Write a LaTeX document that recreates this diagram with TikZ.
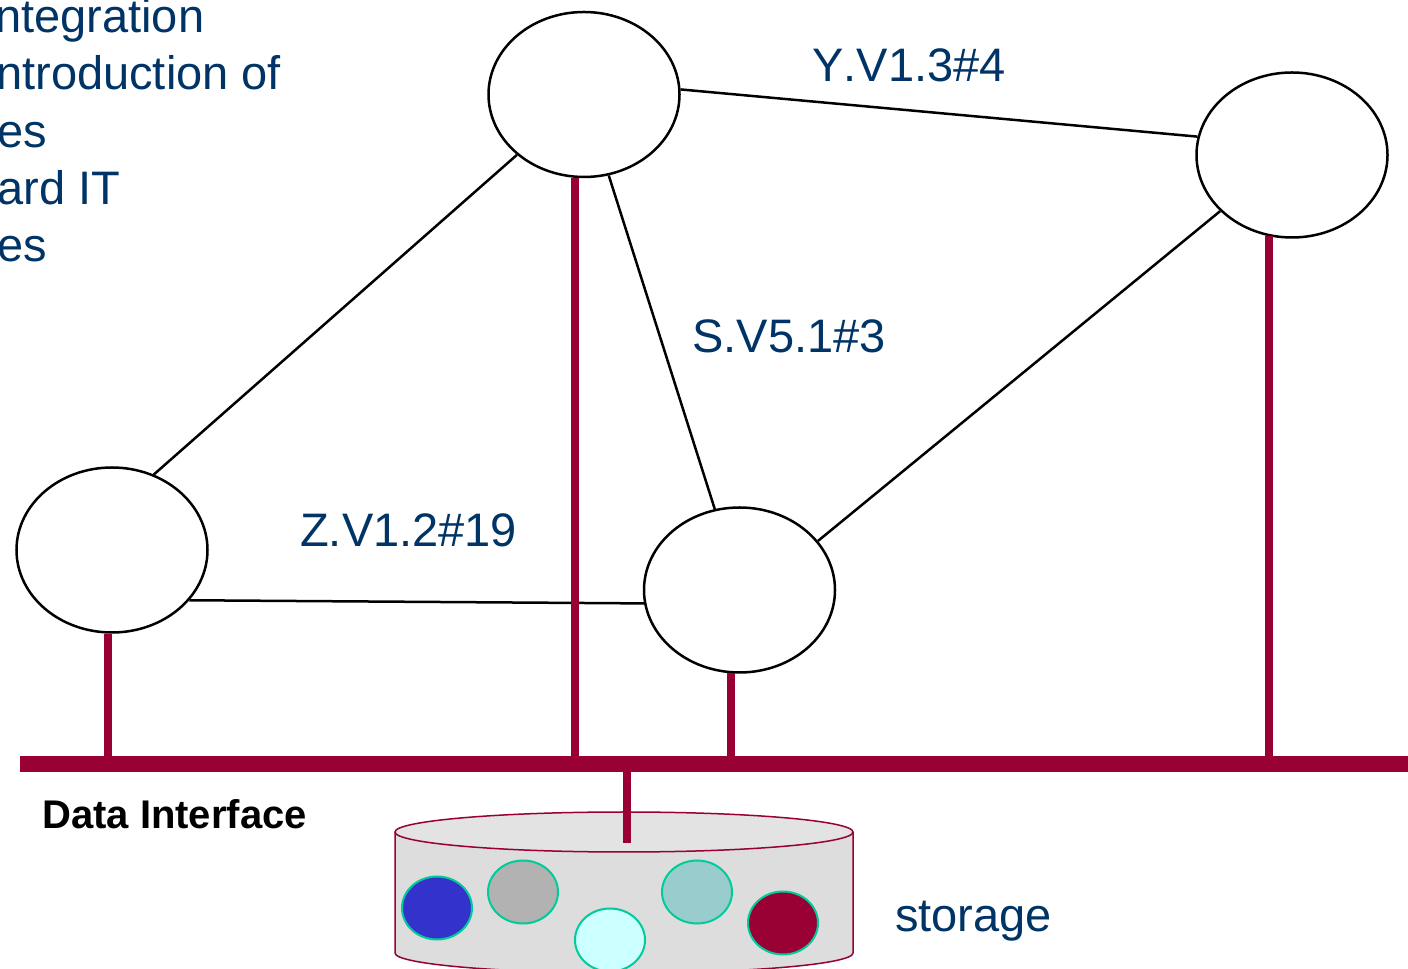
\documentclass[tikz,border=0pt]{standalone}
\usepackage{fontspec}
\setmainfont[Kerning=Off]{Liberation Sans}
\usetikzlibrary{shapes.geometric}
\definecolor{navy}{HTML}{003366}
\definecolor{wine}{HTML}{990033}
\definecolor{rim}{HTML}{00CC99}
\definecolor{disk}{HTML}{DDDDDD}
\definecolor{disktop}{HTML}{E3E3E3}

\begin{document}
\begin{tikzpicture}[x=1pt,y=1pt,line width=2.5pt,
                    main node/.style={ellipse,draw,minimum width=191pt,minimum height=165pt,inner sep=0pt},
                    ver/.style={font=\fontsize{47}{56}\selectfont,text=navy,anchor=base west,inner sep=0pt},
                    bus/.style={wine,line width=16pt},
                    tap/.style={wine,line width=8pt},
                    file/.style={ellipse,draw=rim,line width=2pt,minimum width=70pt,minimum height=63pt,inner sep=0pt}]
  \useasboundingbox (0,0) rectangle (1408,969);

  \node[ver] (t1) at (-6,936) {ntegration};
  \node[ver] (t2) at (-5,879) {ntroduction of};
  \node[ver] (t3) at (-4,821) {es};
  \node[ver] (t4) at (-4,764) {ard IT};
  \node[ver] (t5) at (-4,707) {es};

  \node[main node] (1) at (584,874.5) {};
  \node[main node] (2) at (1292,814) {};
  \node[main node] (3) at (112,419) {};
  \node[main node] (4) at (739.5,379) {};

  \path
    (1.3) edge (2.169)
    (1.222) edge (3.61)
    (1.287) edge (4.107)
    (2.218) edge (4.32)
    (3.327) edge (4.188)
;

  \node[ver] (y) at (811,887) {Y.V1.3\#4};
  \node[ver] (s) at (691,616) {S.V5.1\#3};
  \node[ver] (z) at (299,422) {Z.V1.2\#19};

  \coordinate (busL) at (20,205);
  \coordinate (busR) at (1408,205);
  \draw[bus] (busL) -- (busR);
  \draw[tap] (3.267) -- (3.267 |- busL);
  \draw[tap] (1.264) -- (1.264 |- busL);
  \draw[tap] (4.264) -- (4.264 |- busL);
  \draw[tap] (2.254) -- (2.254 |- busL);

  \node[anchor=base west,inner sep=0pt,font=\fontsize{40}{48}\selectfont\bfseries] (di) at (41,140) {Data Interface};

  \coordinate (db) at (624,137);
  \draw[wine,line width=1.5pt,fill=disk] (395,137) -- (395,16) arc[start angle=180,end angle=360,x radius=229,y radius=20] -- (853,137);
  \draw[wine,line width=1.5pt,fill=disktop] (db) ellipse[x radius=229,y radius=20];
  \coordinate (dbtap) at (627,126);
  \draw[tap] (dbtap |- busL) -- (dbtap);

  \node[file,fill={rgb,255:red,51;green,51;blue,204}] (f1) at (437,61) {};
  \node[file,fill={rgb,255:red,178;green,178;blue,178}] (f2) at (523,77) {};
  \node[file,fill={rgb,255:red,204;green,255;blue,255}] (f3) at (610,29) {};
  \node[file,fill={rgb,255:red,153;green,204;blue,204}] (f4) at (697,77) {};
  \node[file,fill=wine] (f5) at (783,46) {};

  \node[ver] (st) at (894,37) {storage};
\end{tikzpicture}
\end{document}
